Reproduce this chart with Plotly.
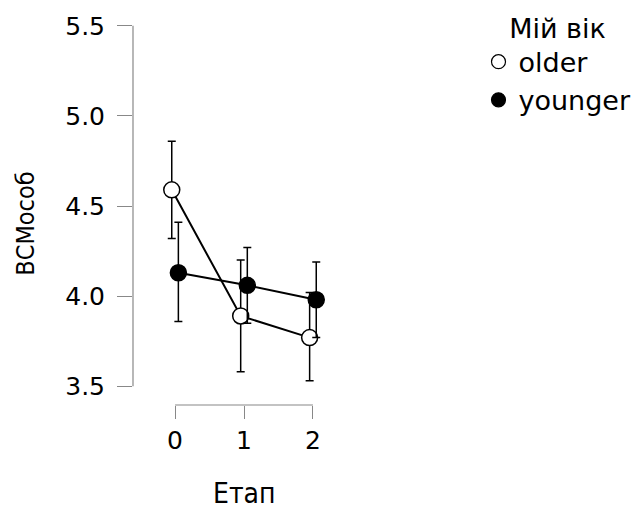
import plotly.graph_objects as go

stages = [0, 1, 2]
tick_labels = ["0", "1", "2"]
older_mean = [4.59, 3.89, 3.77]
older_upper = [4.86, 4.20, 4.02]
older_lower = [4.32, 3.58, 3.53]
younger_mean = [4.13, 4.06, 3.98]
younger_upper = [4.41, 4.27, 4.19]
younger_lower = [3.86, 3.85, 3.77]
x_title = "Етап"
y_title = "ВСМособ"

FONT = "DejaVu Sans"
TITLE_FONT = "DejaVu Sans Condensed, DejaVu Sans"
dodge = 0.048

fig = go.Figure()

def add_series(name, xs, mean, up, lo, fill):
    fig.add_trace(go.Scatter(
        x=xs, y=mean, mode="lines+markers", showlegend=False,
        line=dict(color="black", width=2),
        marker=dict(symbol="circle", size=16, color=fill, line=dict(color="black", width=1.5)),
        error_y=dict(type="data", symmetric=False,
                     array=[u - m for u, m in zip(up, mean)],
                     arrayminus=[m - l for m, l in zip(mean, lo)],
                     color="black", thickness=1.5, width=4),
    ))
    fig.add_trace(go.Scatter(
        x=[None], y=[None], mode="markers", name=name,
        marker=dict(symbol="circle", size=14, color=fill, line=dict(color="black", width=1.2)),
    ))

add_series("older", [s - dodge for s in stages], older_mean, older_upper, older_lower, "white")
add_series("younger", [s + dodge for s in stages], younger_mean, younger_upper, younger_lower, "black")

fig.update_layout(
    width=638, height=512,
    margin=dict(l=133, r=283, t=15, b=107),
    plot_bgcolor="white", paper_bgcolor="white",
    font=dict(family=FONT, size=24, color="black"),
    xaxis=dict(range=[-0.61, 2.61], tickvals=stages, ticktext=tick_labels,
               ticks="outside", ticklen=13, tickcolor="#888888", tickwidth=1.2,
               showline=False, showgrid=False, zeroline=False,
               tickfont=dict(size=25)),
    yaxis=dict(range=[3.396, 5.527], tickvals=[3.5, 4.0, 4.5, 5.0, 5.5],
               ticktext=["3.5", "4.0", "4.5", "5.0", "5.5"],
               ticks="outside", ticklen=15, tickcolor="#888888", tickwidth=1.2,
               ticklabelstandoff=7,
               showline=False, showgrid=False, zeroline=False,
               tickfont=dict(size=25)),
    legend=dict(xref="container", yref="container", x=0.75, y=0.995,
                xanchor="left", yanchor="top",
                title=dict(text="Мій вік", side="top center", font=dict(size=27)),
                font=dict(size=27), itemwidth=30, tracegroupgap=0),
    annotations=[
        dict(text=x_title, xref="paper", yref="paper", x=0.5, y=-0.231,
             xanchor="center", yanchor="middle", showarrow=False,
             font=dict(family=TITLE_FONT, size=28, color="black")),
        dict(text=y_title, xref="paper", yref="paper", x=-0.482, y=0.472,
             xanchor="center", yanchor="middle", showarrow=False, textangle=-90,
             font=dict(family=TITLE_FONT, size=25, color="black")),
    ],
    shapes=[
        dict(type="line", xref="paper", yref="y", x0=0, x1=0, y0=3.5, y1=5.5,
             line=dict(color="#888888", width=1.2)),
        dict(type="line", xref="x", yref="paper", x0=0, x1=2, y0=0, y1=0,
             line=dict(color="#888888", width=1.2)),
    ],
)

fig.write_html("out.html")
